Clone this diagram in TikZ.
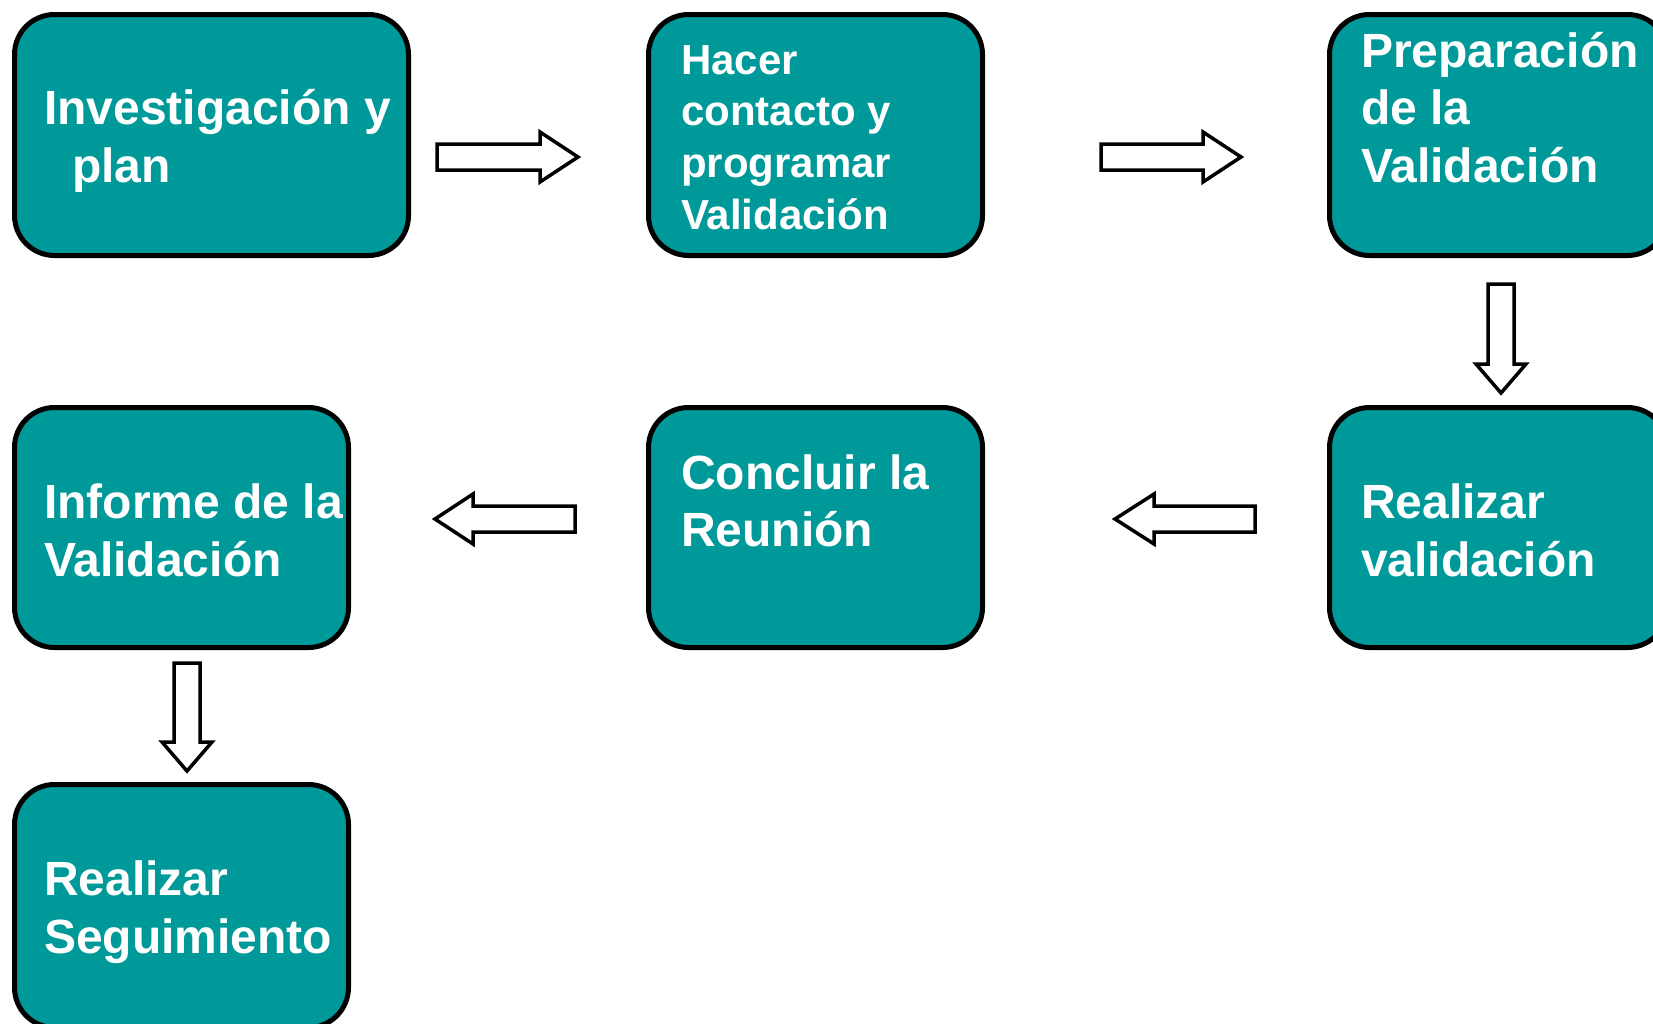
\documentclass[tikz,border=0pt]{standalone}
\usepackage{fontspec}
\setmainfont{Liberation Sans}
\usetikzlibrary{calc}
\definecolor{tealbox}{RGB}{0,153,153}
\begin{document}
\begin{tikzpicture}[x=1pt,y=-1pt,
  box/.style={draw=black, line width=5pt, fill=tealbox, rounded corners=40pt, anchor=north west, inner sep=0pt},
  lbl/.style={anchor=base west, inner sep=0pt, text=white, font=\bfseries\fontsize{48}{58}\selectfont},
  lbls/.style={anchor=base west, inner sep=0pt, text=white, font=\bfseries\fontsize{42}{52}\selectfont},
  blk/.style={draw=black, line width=3.5pt, fill=white, line join=miter}]
\useasboundingbox (0,0) rectangle (1653,1023);
\clip (0,0) rectangle (1653,1023);
% boxes
\node[box, minimum width=394pt, minimum height=241pt] (b1) at (12,12) {};
\node[box, minimum width=334pt, minimum height=241pt] (b2) at (646,12) {};
\node[box, minimum width=338pt, minimum height=241pt] (b3) at (1327,12) {};
\node[box, minimum width=334pt, minimum height=240pt] (b4) at (12,405) {};
\node[box, minimum width=334pt, minimum height=240pt] (b5) at (646,405) {};
\node[box, minimum width=338pt, minimum height=240pt] (b6) at (1327,405) {};
\node[box, minimum width=334pt, minimum height=243pt] (b7) at (12,782) {};
% labels
\node[lbl] (t1a) at (44,124) {Investigación y};
\node[lbl] (t1b) at (72,182) {plan};
\node[lbls] (t2a) at (681,74) {Hacer};
\node[lbls] (t2b) at (681,125) {contacto y};
\node[lbls] (t2c) at (681,177) {programar};
\node[lbls] (t2d) at (681,229) {Validación};
\node[lbl] (t3a) at (1361,67) {Preparación};
\node[lbl] (t3b) at (1361,124) {de la};
\node[lbl] (t3c) at (1361,182) {Validación};
\node[lbl] (t4a) at (44,518) {Informe de la};
\node[lbl] (t4b) at (44,576) {Validación};
\node[lbl] (t5a) at (681,489) {Concluir la};
\node[lbl] (t5b) at (681,546) {Reunión};
\node[lbl] (t6a) at (1361,518) {Realizar};
\node[lbl] (t6b) at (1361,576) {validación};
\node[lbl] (t7a) at (44,895) {Realizar};
\node[lbl] (t7b) at (44,953) {Seguimiento};
% arrow anchor coordinates (tail centres)
\coordinate (a12) at ($(b1.north east)+(26,145)$);
\coordinate (a23) at ($(b2.north east)+(116,145)$);
\coordinate (a36) at ($(b3.south west)+(174,26)$);
\coordinate (a65) at ($(b6.north west)+(-72,114)$);
\coordinate (a54) at ($(b5.north west)+(-71,114)$);
\coordinate (a47) at ($(b4.south west)+(175,13)$);
% block arrows: right
\draw[blk] (a12) ++(0,-13) -- ++(103,0) -- ++(0,-12) -- ++(38,25) -- ++(-38,25) -- ++(0,-12) -- ++(-103,0) -- cycle;
\draw[blk] (a23) ++(0,-13) -- ++(102,0) -- ++(0,-12) -- ++(38,25) -- ++(-38,25) -- ++(0,-12) -- ++(-102,0) -- cycle;
% left
\draw[blk] (a65) ++(0,-13) -- ++(-101,0) -- ++(0,-12) -- ++(-39,25) -- ++(39,25) -- ++(0,-12) -- ++(101,0) -- cycle;
\draw[blk] (a54) ++(0,-13) -- ++(-102,0) -- ++(0,-12) -- ++(-38,25) -- ++(38,25) -- ++(0,-12) -- ++(102,0) -- cycle;
% down
\draw[blk] (a36) ++(-13,0) -- ++(0,80) -- ++(-12,0) -- ++(25,29) -- ++(25,-29) -- ++(-12,0) -- ++(0,-80) -- cycle;
\draw[blk] (a47) ++(-13,0) -- ++(0,79) -- ++(-12,0) -- ++(25,29) -- ++(25,-29) -- ++(-12,0) -- ++(0,-79) -- cycle;
\end{tikzpicture}
\end{document}
